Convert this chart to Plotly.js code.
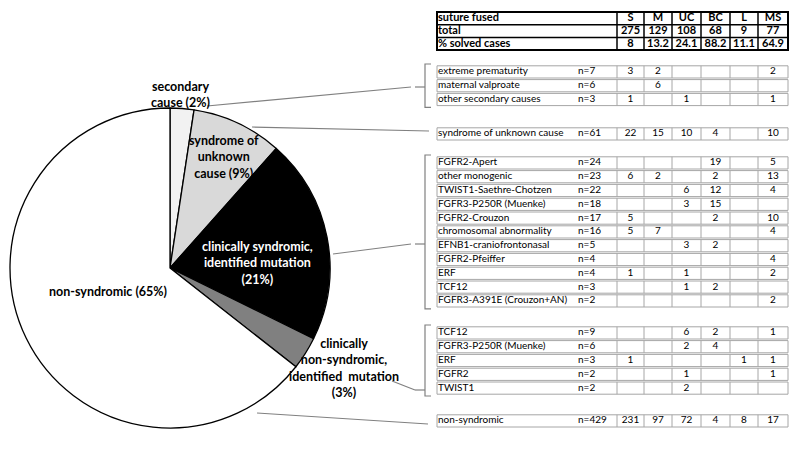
<!DOCTYPE html>
<html>
<head>
<meta charset="utf-8">
<script src="https://cdn.plot.ly/plotly-3.0.1.min.js"></script>
<style>
  html, body { margin: 0; padding: 0; background: #fff; }
  #chart { width: 800px; height: 469px; }
</style>
</head>
<body>
<div id="chart"></div>
<script>
// summary rows
var sutures = ["S", "M", "UC", "BC", "L", "MS"];
var sutureTotals = [275, 129, 108, 68, 9, 77];
var solvedPct = [8, 13.2, 24.1, 88.2, 11.1, 64.9];

// groups (one table block each)
var secondaryNames = ["extreme prematurity", "maternal valproate", "other secondary causes"];
var secondaryN = [7, 6, 3];
var secondaryCounts = [
  [3, 2, "", "", "", 2],
  ["", 6, "", "", "", ""],
  [1, "", 1, "", "", 1]
];

var unknownNames = ["syndrome of unknown cause"];
var unknownN = [61];
var unknownCounts = [[22, 15, 10, 4, "", 10]];

var syndromicNames = ["FGFR2-Apert", "other monogenic", "TWIST1-Saethre-Chotzen", "FGFR3-P250R (Muenke)",
  "FGFR2-Crouzon", "chromosomal abnormality", "EFNB1-craniofrontonasal", "FGFR2-Pfeiffer", "ERF", "TCF12",
  "FGFR3-A391E (Crouzon+AN)"];
var syndromicN = [24, 23, 22, 18, 17, 16, 5, 4, 4, 3, 2];
var syndromicCounts = [
  ["", "", "", 19, "", 5],
  [6, 2, "", 2, "", 13],
  ["", "", 6, 12, "", 4],
  ["", "", 3, 15, "", ""],
  [5, "", "", 2, "", 10],
  [5, 7, "", "", "", 4],
  ["", "", 3, 2, "", ""],
  ["", "", "", "", "", 4],
  [1, "", 1, "", "", 2],
  ["", "", 1, 2, "", ""],
  ["", "", "", "", "", 2]
];

var mutationNames = ["TCF12", "FGFR3-P250R (Muenke)", "ERF", "FGFR2", "TWIST1"];
var mutationN = [9, 6, 3, 2, 2];
var mutationCounts = [
  ["", "", 6, 2, "", 1],
  ["", "", 2, 4, "", ""],
  [1, "", "", "", 1, 1],
  ["", "", 1, "", "", 1],
  ["", "", 2, "", "", ""]
];

var nonsynNames = ["non-syndromic"];
var nonsynN = [429];
var nonsynCounts = [[231, 97, 72, 4, 8, 17]];

// pie
var pieLabels = ["secondary cause", "syndrome of unknown cause", "clinically syndromic, identified mutation",
  "clinically non-syndromic, identified mutation", "non-syndromic"];
var pieColors = ["#f2f2f2", "#d9d9d9", "#000000", "#808080", "#ffffff"];

function sum(a) { return a.reduce(function (s, v) { return s + v; }, 0); }
var pieValues = [sum(secondaryN), sum(unknownN), sum(syndromicN), sum(mutationN), sum(nonsynN)];

// table geometry (pixels, on a hidden 800x469 axis)
var colEdges = [437, 577, 617, 644, 672, 701, 730, 758, 788];
var headTop = 12, headH = 12.7;
var rowH = 13.8;
var groupTops = [65, 127, 156, 326, 414];
var grey = "#a6a6a6";

var groups = [
  { names: secondaryNames, n: secondaryN, counts: secondaryCounts },
  { names: unknownNames, n: unknownN, counts: unknownCounts },
  { names: syndromicNames, n: syndromicN, counts: syndromicCounts },
  { names: mutationNames, n: mutationN, counts: mutationCounts },
  { names: nonsynNames, n: nonsynN, counts: nonsynCounts }
];

var shapes = [];
var nameX = [], nameY = [], nameT = [];
var nX = [], nY = [], nT = [];
var cX = [], cY = [], cT = [];
var groupSpan = [];

function colMid(i) { return (colEdges[i] + colEdges[i + 1]) / 2; }

groups.forEach(function (g, gi) {
  var rowTop = groupTops[gi];
  g.names.forEach(function (nm, r) {
    var y0 = rowTop, y1 = rowTop + rowH, yc = rowTop + rowH / 2;
    shapes.push({ type: "rect", xref: "x", yref: "y", x0: colEdges[0], x1: colEdges[8], y0: y0 + 0.8, y1: y1 - 0.8,
      line: { color: grey, width: 1 } });
    for (var k = 2; k < 8; k++) {
      shapes.push({ type: "line", xref: "x", yref: "y", x0: colEdges[k], x1: colEdges[k], y0: y0 + 0.8, y1: y1 - 0.8,
        line: { color: grey, width: 1 } });
    }
    nameX.push(colEdges[0] + 1); nameY.push(yc); nameT.push(nm);
    nX.push(colEdges[1] + 1); nY.push(yc); nT.push("n=" + g.n[r]);
    g.counts[r].forEach(function (v, c) {
      cX.push(colMid(c + 2)); cY.push(yc); cT.push(String(v));
    });
    rowTop += rowH;
  });
  groupSpan.push([groupTops[gi], rowTop]);
});

// header block
var headRows = [["suture fused"].concat(sutures), ["total"].concat(sutureTotals), ["% solved cases"].concat(solvedPct)];
var hX = [], hY = [], hT = [], hvX = [], hvY = [], hvT = [];
headRows.forEach(function (row, r) {
  var yc = headTop + headH * (r + 0.5);
  hX.push(colEdges[0] + 1); hY.push(yc); hT.push(row[0]);
  for (var c = 1; c < row.length; c++) { hvX.push(colMid(c + 1)); hvY.push(yc); hvT.push(String(row[c])); }
  if (r > 0) {
    shapes.push({ type: "line", xref: "x", yref: "y", x0: colEdges[0], x1: colEdges[8], y0: headTop + headH * r,
      y1: headTop + headH * r, line: { color: "#000", width: 1.5 } });
  }
});
for (var k = 2; k < 8; k++) {
  shapes.push({ type: "line", xref: "x", yref: "y", x0: colEdges[k], x1: colEdges[k], y0: headTop,
    y1: headTop + 3 * headH, line: { color: "#000", width: 1.5 } });
}
shapes.push({ type: "rect", xref: "x", yref: "y", x0: colEdges[0], x1: colEdges[8], y0: headTop,
  y1: headTop + 3 * headH, line: { color: "#000", width: 2 } });

// brackets for the multi-row blocks, notch where the leader arrives
var bx = 425, lead = "#808080";
var notchY = [87, null, 244, 390];
[0, 2, 3].forEach(function (gi) {
  var a = groupSpan[gi][0] - 1, b = groupSpan[gi][1] + 1, m = notchY[gi];
  shapes.push({ type: "path", xref: "x", yref: "y",
    path: "M" + (bx + 6) + "," + a + " L" + bx + "," + a + " L" + bx + "," + b + " L" + (bx + 6) + "," + b,
    line: { color: lead, width: 1.2 } });
  shapes.push({ type: "line", xref: "x", yref: "y", x0: bx - 10, x1: bx, y0: m, y1: m, line: { color: lead, width: 1.2 } });
});

// leader lines from the pie to the blocks
var leaders = [
  [207, 106, 411, 87],
  [252, 127, 429, 131],
  [333, 254, 411, 244],
  [392, 381, 415, 390],
  [257, 413, 428, 424]
];
leaders.forEach(function (l) {
  shapes.push({ type: "line", xref: "x", yref: "y", x0: l[0], y0: l[1], x1: l[2], y1: l[3],
    line: { color: lead, width: 1.2 } });
});

var bodyFont = { family: "Lato, sans-serif", size: 10, color: "#000" };
var boldFont = { family: "Lato, sans-serif", size: 11, color: "#000", weight: "bold" };

function textTrace(x, y, t, pos, font) {
  return { type: "scatter", mode: "text", x: x, y: y, text: t, textposition: pos, textfont: font,
    hoverinfo: "skip", showlegend: false, cliponaxis: false };
}

var data = [
  {
    type: "pie", values: pieValues, labels: pieLabels, sort: false, direction: "clockwise", rotation: 0,
    marker: { colors: pieColors, line: { color: "#000", width: 1.3 } },
    textinfo: "none", hoverinfo: "none", showlegend: false,
    domain: { x: [10 / 800, 330 / 800], y: [41 / 469, 361 / 469] }
  },
  textTrace(nameX, nameY, nameT, "middle right", bodyFont),
  textTrace(nX, nY, nT, "middle right", bodyFont),
  textTrace(cX, cY, cT, "middle center", bodyFont),
  textTrace(hX, hY, hT, "middle right", boldFont),
  textTrace(hvX, hvY, hvT, "middle center", boldFont)
];

var lblFont = { family: "Lato, sans-serif", size: 12.5, color: "#000", weight: "bold" };
function lbl(x, y, t, color) {
  var f = Object.assign({}, lblFont);
  if (color) f.color = color;
  return { xref: "x", yref: "y", x: x, y: y, text: t, showarrow: false, font: f, align: "center" };
}

var layout = {
  width: 800, height: 469,
  margin: { l: 0, r: 0, t: 0, b: 0 },
  paper_bgcolor: "#fff", plot_bgcolor: "rgba(0,0,0,0)",
  xaxis: { range: [0, 800], visible: false, fixedrange: true, domain: [0, 1] },
  yaxis: { range: [469, 0], visible: false, fixedrange: true, domain: [0, 1] },
  hovermode: false,
  shapes: shapes,
  annotations: [
    lbl(180, 94.5, "secondary<br>cause (2%)"),
    lbl(224, 156.5, "syndrome of<br>unknown<br>cause (9%)"),
    lbl(257, 263, "clinically syndromic,<br>identified mutation<br>(21%)", "#fff"),
    lbl(108, 291, "non-syndromic (65%)"),
    lbl(344, 367.5, "clinically<br>non-syndromic,<br>identified  mutation<br>(3%)")
  ]
};

Plotly.newPlot("chart", data, layout, { displayModeBar: false, staticPlot: true });
</script>
</body>
</html>
